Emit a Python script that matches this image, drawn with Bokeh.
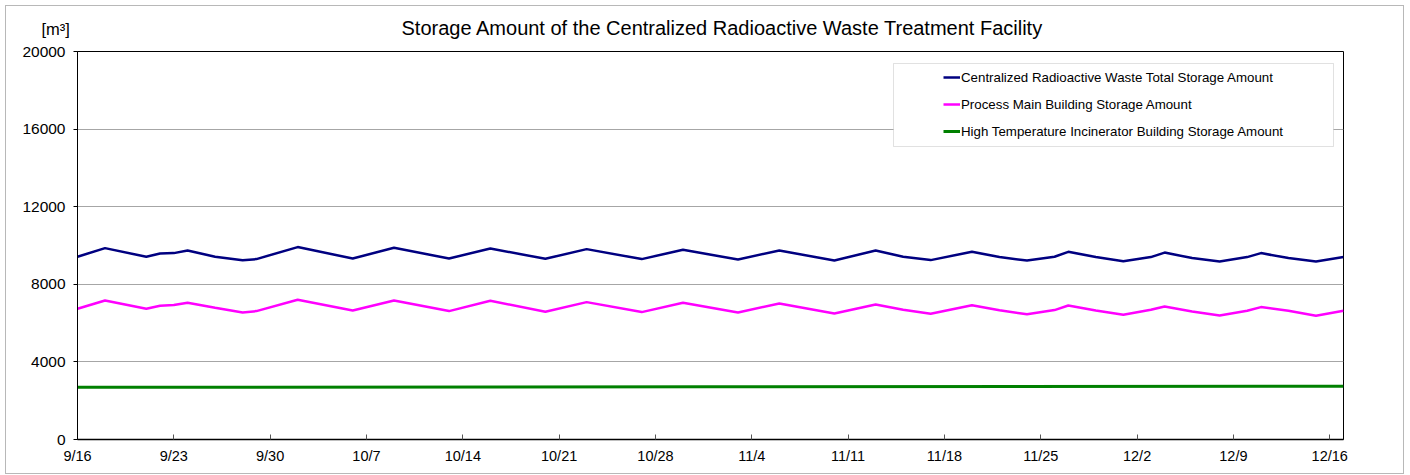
import pandas as pd
from bokeh.plotting import figure
from bokeh.models import Range1d, FixedTicker, Legend, LegendItem, BoxAnnotation, Label
from bokeh.embed import file_html
from bokeh.resources import INLINE

YEAR = 2024

title_text = "Storage Amount of the Centralized Radioactive Waste Treatment Facility"
unit_text = "[m³]"
series_names = [
    "Centralized Radioactive Waste Total Storage Amount",
    "Process Main Building Storage Amount",
    "High Temperature Incinerator Building Storage Amount",
]

dates = ["9/16", "9/18", "9/21", "9/22", "9/23", "9/24", "9/26", "9/28", "9/29",
         "10/2", "10/6", "10/9", "10/13", "10/16", "10/20", "10/23", "10/27", "10/30",
         "11/3", "11/6", "11/10", "11/13", "11/15", "11/17", "11/20", "11/22", "11/24",
         "11/26", "11/27", "11/29", "12/1", "12/3", "12/4", "12/6", "12/8", "12/10",
         "12/11", "12/13", "12/15", "12/17"]

total_values = [9418, 9866, 9418, 9588, 9608, 9742, 9418, 9237, 9299,
                9918, 9330, 9881, 9330, 9845, 9314, 9814, 9299, 9778,
                9278, 9742, 9227, 9742, 9418, 9247, 9675, 9402, 9227,
                9418, 9675, 9402, 9186, 9402, 9634, 9351, 9175, 9402,
                9608, 9351, 9175, 9402]

process_values = [6737, 7165, 6737, 6892, 6928, 7046, 6789, 6546, 6619,
                  7201, 6649, 7165, 6619, 7149, 6582, 7082, 6567, 7046,
                  6546, 7010, 6495, 6959, 6686, 6479, 6920, 6660, 6455,
                  6670, 6907, 6649, 6428, 6686, 6856, 6598, 6392, 6634,
                  6825, 6634, 6376, 6634]

incinerator_dates = ["9/16", "11/1", "12/17"]
incinerator_values = [2690, 2720, 2750]

tick_labels = ["9/16", "9/23", "9/30", "10/7", "10/14", "10/21", "10/28",
               "11/4", "11/11", "11/18", "11/25", "12/2", "12/9", "12/16"]
y_ticks = [0, 4000, 8000, 12000, 16000, 20000]

x_start, x_end = "9/16", "12/17"
y_start, y_end = 0, 20000


def to_dt(md):
    return pd.to_datetime([f"{YEAR}/{d}" for d in md], format="%Y/%m/%d")


def ms(md):
    return pd.Timestamp(f"{YEAR}/{md}").value / 1e6


X0, X1 = ms(x_start), ms(x_end)
FW, FH = 1266, 388


def fx(px):
    return X0 + (X1 - X0) * px / FW


def fy(py):
    return y_end - (y_end - y_start) * py / FH


FONT = "Liberation Sans"

p = figure(
    x_axis_type="datetime",
    frame_width=FW, frame_height=FH,
    min_border_left=71, min_border_right=60, min_border_top=45, min_border_bottom=34,
    x_range=Range1d(X0, X1), y_range=Range1d(y_start, y_end),
    output_backend="svg", toolbar_location=None,
)
p.styles = {"margin-left": "6px", "margin-top": "6px",
            "outline": "1px solid #b8b8b8"}

p.title.text = title_text
p.title.text_font = FONT
p.title.text_font_size = "20px"
p.title.text_font_style = "normal"
p.title.text_color = "black"
p.title.align = "left"
p.title.vertical_align = "top"
p.title.offset = 324
p.title.standoff = 21

p.outline_line_color = "black"
p.outline_line_width = 1
p.background_fill_color = "white"
p.border_fill_color = "white"

p.xgrid.visible = False
p.ygrid.grid_line_color = "#a6a6a6"
p.ygrid.grid_line_width = 1

p.yaxis.ticker = FixedTicker(ticks=y_ticks)
p.yaxis.major_tick_out = 4
p.yaxis.major_tick_in = 0
p.yaxis.minor_tick_line_color = None
p.yaxis.axis_line_color = "black"
p.yaxis.major_tick_line_color = "black"
p.yaxis.major_label_text_font = FONT
p.yaxis.major_label_text_font_size = "15.5px"
p.yaxis.major_label_text_color = "black"
p.yaxis.major_label_standoff = 8

x_tick_vals = [ms(t) for t in tick_labels]
p.xaxis.ticker = FixedTicker(ticks=x_tick_vals)
p.xaxis.major_label_overrides = {v: t for v, t in zip(x_tick_vals, tick_labels)}
p.xaxis.major_tick_out = 0
p.xaxis.major_tick_in = 5
p.xaxis.minor_tick_line_color = None
p.xaxis.axis_line_color = "black"
p.xaxis.axis_line_width = 1.5
p.xaxis.major_tick_line_color = "#555555"
p.xaxis.major_label_text_font = FONT
p.xaxis.major_label_text_font_size = "14.5px"
p.xaxis.major_label_text_color = "black"
p.xaxis.major_label_standoff = 8

r_total = p.line(to_dt(dates), total_values, line_color="#000080", line_width=2.5)
r_proc = p.line(to_dt(dates), process_values, line_color="#ff00ff", line_width=2.5)
r_inc = p.line(to_dt(incinerator_dates), incinerator_values, line_color="#008000", line_width=3)

# unit label: placed in a side panel so it is not clipped to the frame
p.add_layout(Label(x=35, y=22, x_units="canvas", y_units="canvas", text=unit_text,
                   text_font=FONT, text_font_size="16.5px", text_baseline="middle",
                   text_align="left", text_color="black"), "right")

p.add_layout(BoxAnnotation(left=fx(816), right=fx(1256), top=fy(12), bottom=fy(95),
                           fill_color="white", fill_alpha=1.0,
                           line_color="#9a9a9a", line_width=1))

legend = Legend(
    items=[LegendItem(label=series_names[0], renderers=[r_total]),
           LegendItem(label=series_names[1], renderers=[r_proc]),
           LegendItem(label=series_names[2], renderers=[r_inc])],
    location=(866, 298),
    glyph_width=17, glyph_height=20, label_height=20, label_standoff=1,
    spacing=7, padding=0, margin=0,
    border_line_alpha=0, background_fill_alpha=0,
    label_text_font=FONT, label_text_font_size="13.3px", label_text_color="black",
)
p.add_layout(legend)

open("out.html", "w").write(file_html(p, INLINE))
